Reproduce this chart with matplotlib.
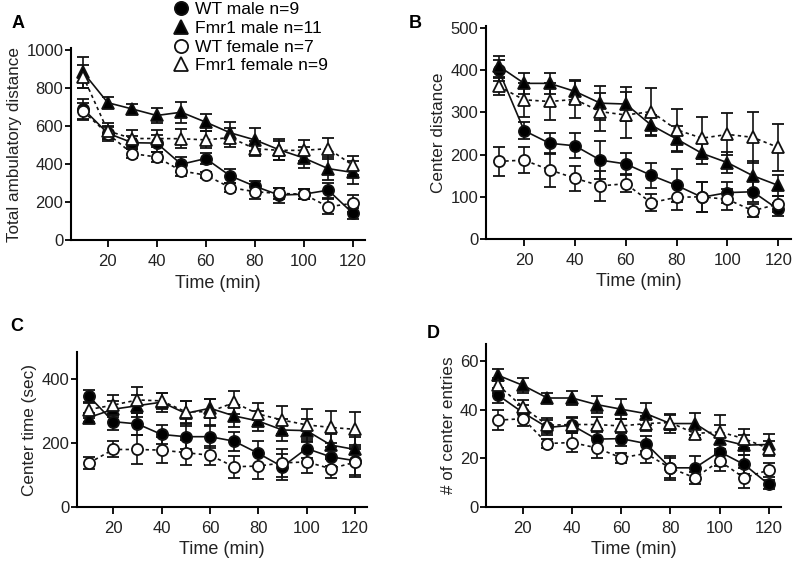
import numpy as np
import matplotlib
matplotlib.use("Agg")
import matplotlib.pyplot as plt
from matplotlib.lines import Line2D

plt.rcParams['font.family'] = ['Liberation Sans', 'DejaVu Sans']
plt.rcParams['font.size'] = 12

time = [10, 20, 30, 40, 50, 60, 70, 80, 90, 100, 110, 120]
groups = ['WT male n=9', 'Fmr1 male n=11', 'WT female n=7', 'Fmr1 female n=9']

# panel A - total ambulatory distance
a_wt_m = [690, 563, 513, 511, 400, 430, 339, 285, 238, 243, 264, 143]
a_wt_m_err = [50, 30, 35, 45, 40, 30, 35, 25, 40, 25, 40, 30]
a_ko_m = [882, 723, 690, 656, 673, 621, 565, 528, 476, 433, 377, 357]
a_ko_m_err = [80, 30, 25, 40, 55, 45, 55, 60, 55, 55, 60, 60]
a_wt_f = [677, 560, 456, 438, 365, 343, 278, 256, 247, 243, 177, 195]
a_wt_f_err = [45, 40, 25, 25, 25, 15, 25, 40, 30, 25, 40, 45]
a_ko_f = [860, 575, 535, 535, 534, 528, 540, 482, 473, 473, 482, 395]
a_ko_f_err = [60, 40, 45, 45, 50, 45, 50, 40, 50, 55, 55, 50]

# panel B - center distance
b_wt_m = [400, 257, 227, 221, 187, 178, 151, 127, 99, 110, 112, 70]
b_wt_m_err = [25, 20, 25, 30, 45, 25, 30, 40, 35, 25, 25, 15]
b_ko_m = [410, 369, 369, 350, 322, 320, 270, 237, 203, 181, 150, 127]
b_ko_m_err = [25, 25, 25, 25, 40, 40, 25, 30, 25, 25, 35, 25]
b_wt_f = [184, 187, 164, 144, 126, 131, 86, 99, 100, 94, 67, 83]
b_wt_f_err = [35, 30, 40, 30, 35, 20, 20, 30, 35, 25, 15, 20]
b_ko_f = [362, 330, 326, 331, 302, 294, 302, 259, 239, 248, 241, 217]
b_ko_f_err = [20, 40, 45, 45, 45, 55, 55, 50, 50, 50, 60, 55]

# panel C - center time
c_wt_m = [346, 267, 260, 227, 220, 220, 206, 168, 126, 183, 157, 145]
c_wt_m_err = [20, 25, 35, 30, 40, 35, 30, 40, 40, 30, 30, 50]
c_ko_m = [280, 306, 317, 328, 293, 309, 285, 269, 241, 239, 194, 180]
c_ko_m_err = [15, 25, 35, 30, 40, 30, 35, 30, 35, 35, 35, 40]
c_wt_f = [138, 180, 180, 178, 170, 162, 126, 128, 138, 141, 120, 140]
c_wt_f_err = [20, 25, 45, 40, 40, 30, 35, 40, 45, 35, 30, 40]
c_ko_f = [305, 319, 335, 332, 298, 298, 327, 291, 272, 257, 249, 243]
c_ko_f_err = [25, 30, 40, 25, 35, 40, 35, 35, 45, 50, 50, 55]

# panel D - number of center entries
d_wt_m = [45.9, 38.8, 32.7, 33.6, 27.9, 28.1, 26.1, 16.1, 16.1, 22.7, 17.5, 9.3]
d_wt_m_err = [3, 3, 3, 3, 4, 3, 3, 5, 5, 6, 4, 2]
d_ko_m = [54.1, 50.0, 44.8, 44.8, 42.1, 40.2, 38.4, 34.3, 34.3, 27.9, 25.4, 25.7]
d_ko_m_err = [2.5, 3, 2, 3, 3.5, 4, 4.5, 4, 4.5, 6, 4, 4.5]
d_wt_f = [35.7, 36.3, 26.1, 26.5, 24.3, 20.2, 22.0, 16.0, 12.0, 18.9, 12.0, 15.2]
d_wt_f_err = [4, 3, 2, 4, 4, 2, 4, 4, 2.5, 4, 4, 3]
d_ko_f = [50.0, 41.1, 33.6, 33.9, 33.9, 33.3, 34.3, 34.7, 30.2, 30.9, 28.1, 24.0]
d_ko_f_err = [3, 3, 3, 3, 3, 3, 3, 3, 2, 7, 4, 3]

styles = [
    dict(marker='o', mfc='black', ls='-'),
    dict(marker='^', mfc='black', ls='-'),
    dict(marker='o', mfc='white', ls=(0, (2, 2))),
    dict(marker='^', mfc='white', ls=(0, (2, 2))),
]

fig = plt.figure(figsize=(8, 5.71), dpi=100)


def panel(rect, series, ylim, yticks, ylabel, letter, letter_xy):
    ax = fig.add_axes(rect)
    for (y, e), st in zip(series, styles):
        ax.errorbar(time, y, yerr=e, color='#111111', marker=st['marker'],
                    mfc=st['mfc'], mec='#111111', ms=8, mew=1.3,
                    ls=st['ls'], lw=1.2, elinewidth=1.2, capsize=4, capthick=1.2)
    ax.set_xlim(5, 125)
    ax.set_ylim(*ylim)
    ax.set_xticks([20, 40, 60, 80, 100, 120])
    ax.set_yticks(yticks)
    ax.spines['top'].set_visible(False)
    ax.spines['right'].set_visible(False)
    ax.spines['left'].set_linewidth(1.5)
    ax.spines['bottom'].set_linewidth(1.5)
    ax.tick_params(direction='out', length=5, width=1.3, labelsize=12,
                   labelcolor='#222222')
    ax.tick_params(axis='x', pad=5)
    ax.tick_params(axis='y', length=4, pad=1.5)
    ax.set_xlabel('Time (min)', fontsize=13, labelpad=4, color='#222222')
    ax.set_ylabel(ylabel, fontsize=12.3, labelpad=3, color='#222222')
    fig.text(letter_xy[0] / 800, 1 - letter_xy[1] / 571, letter,
             fontsize=13, fontweight='bold', va='top')
    return ax


panel([71 / 800, 1 - 240.5 / 571, 294 / 800, 192.5 / 571],
      [(a_wt_m, a_wt_m_err), (a_ko_m, a_ko_m_err), (a_wt_f, a_wt_f_err), (a_ko_f, a_ko_f_err)],
      (0, 1010), [0, 200, 400, 600, 800, 1000], 'Total ambulatory distance', 'A', (12, 15))

panel([486 / 800, 1 - 239 / 571, 305 / 800, 213 / 571],
      [(b_wt_m, b_wt_m_err), (b_ko_m, b_ko_m_err), (b_wt_f, b_wt_f_err), (b_ko_f, b_ko_f_err)],
      (0, 505), [0, 100, 200, 300, 400, 500], 'Center distance', 'B', (409, 15))

panel([77 / 800, 1 - 507 / 571, 290 / 800, 155 / 571],
      [(c_wt_m, c_wt_m_err), (c_ko_m, c_ko_m_err), (c_wt_f, c_wt_f_err), (c_ko_f, c_ko_f_err)],
      (0, 485), [0, 200, 400], 'Center time (sec)', 'C', (10, 318))

panel([486 / 800, 1 - 507 / 571, 295 / 800, 163 / 571],
      [(d_wt_m, d_wt_m_err), (d_ko_m, d_ko_m_err), (d_wt_f, d_wt_f_err), (d_ko_f, d_ko_f_err)],
      (0, 67), [0, 20, 40, 60], '# of center entries', 'D', (427, 325))

handles = [Line2D([], [], color='#111111', marker=st['marker'], mfc=st['mfc'],
                  mec='#111111', ms=9.5, mew=1.3, ls='none') for st in styles]
fig.legend(handles, groups, loc='upper left', bbox_to_anchor=(172 / 800, 1 - 2 / 571),
           frameon=False, fontsize=12.6, handlelength=1.0, handletextpad=0.3,
           labelspacing=0.2, borderaxespad=0, borderpad=0)

fig.savefig('out.png', dpi=100, facecolor='white')
